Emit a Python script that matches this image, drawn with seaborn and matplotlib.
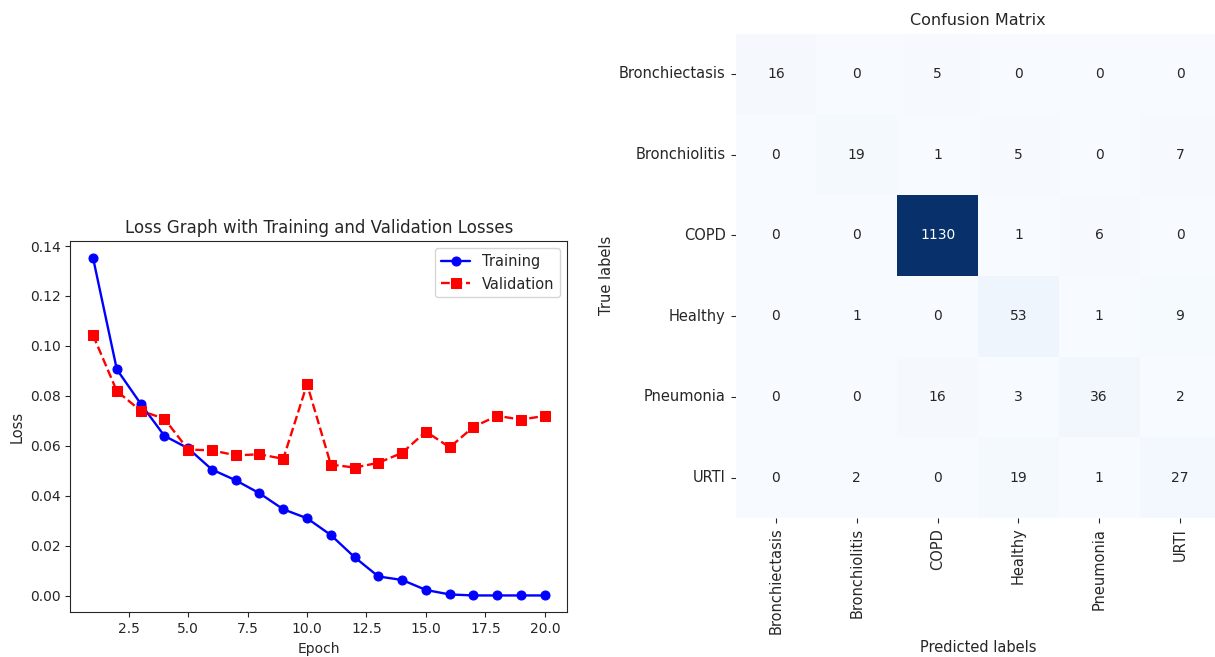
import numpy as np
import pandas as pd
import matplotlib
matplotlib.use("Agg")
import matplotlib.pyplot as plt
import seaborn as sns

epochs = list(range(1, 21))
training_loss = [0.1352, 0.0906, 0.0769, 0.0640, 0.0590, 0.0505, 0.0462, 0.0410, 0.0346, 0.0310,
                 0.0243, 0.0154, 0.0077, 0.0063, 0.0023, 0.0005, 0.0001, 0.0001, 0.0001, 0.0001]
validation_loss = [0.1043, 0.0819, 0.0741, 0.0708, 0.0585, 0.0582, 0.0562, 0.0566, 0.0548, 0.0847,
                   0.0525, 0.0513, 0.0532, 0.0572, 0.0657, 0.0594, 0.0676, 0.0720, 0.0705, 0.0720]

classes = ["Bronchiectasis", "Bronchiolitis", "COPD", "Healthy", "Pneumonia", "URTI"]
row_bronchiectasis = [16, 0, 5, 0, 0, 0]
row_bronchiolitis = [0, 19, 1, 5, 0, 7]
row_copd = [0, 0, 1130, 1, 6, 0]
row_healthy = [0, 1, 0, 53, 1, 9]
row_pneumonia = [0, 0, 16, 3, 36, 2]
row_urti = [0, 2, 0, 19, 1, 27]

sns.set_style("ticks")
plt.rcParams['font.family'] = ['DejaVu Sans']

fig = plt.figure(figsize=(12.15, 6.57), dpi=100)

# Loss graph
ax1 = fig.add_axes([0.058, 0.068, 0.409, 0.565])
sns.lineplot(x=epochs, y=training_loss, color="blue", marker="o", markersize=6.5,
             markeredgecolor="blue", linewidth=1.7, label="Training", ax=ax1)
sns.lineplot(x=epochs, y=validation_loss, color="red", marker="s", markersize=6.5,
             markeredgecolor="red", linewidth=1.7, linestyle="--", label="Validation", ax=ax1)
ax1.set_title("Loss Graph with Training and Validation Losses", fontsize=12)
ax1.set_xlabel("Epoch", fontsize=10)
ax1.set_ylabel("Loss", fontsize=10.5)
ax1.tick_params(labelsize=10)
ax1.legend(loc="upper right", fontsize=10.5)

# Confusion matrix
cm = pd.DataFrame([row_bronchiectasis, row_bronchiolitis, row_copd, row_healthy,
                   row_pneumonia, row_urti], index=classes, columns=classes)
ax2 = fig.add_axes([0.6054, 0.2116, 0.3991, 0.7373])
sns.heatmap(cm, annot=True, fmt="d", cmap="Blues", cbar=False, ax=ax2,
            annot_kws={"fontsize": 10})
ax2.set_title("Confusion Matrix", fontsize=11.5)
ax2.set_xlabel("Predicted labels", fontsize=10.5)
ax2.set_ylabel("True labels", fontsize=10.5)
ax2.tick_params(labelsize=10.5)
plt.setp(ax2.get_xticklabels(), rotation=90)
plt.setp(ax2.get_yticklabels(), rotation=0)

fig.savefig("out.png", dpi=100)
